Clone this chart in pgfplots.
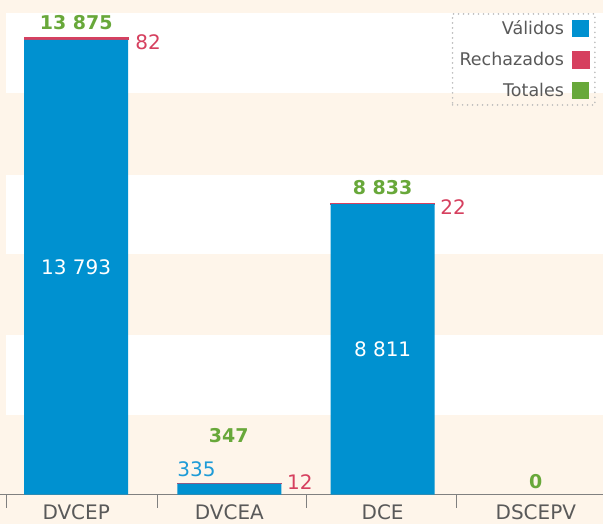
\documentclass[border=0pt]{standalone}
\usepackage{pgfplots}
\pgfplotsset{compat=1.18}
\usepackage{fontspec}
\setmainfont{DejaVu Sans}
\definecolor{cblue}{HTML}{0091D0}
\definecolor{cltblue}{HTML}{1E9BD7}
\definecolor{cred}{HTML}{D6405F}
\definecolor{cgreen}{HTML}{68A83A}
\definecolor{cream}{HTML}{FEF5EA}
\definecolor{labgray}{HTML}{595959}
\definecolor{dotgray}{HTML}{BBBBBB}
\tikzset{vlab/.style={font=\fontsize{20}{24}\selectfont, inner sep=0pt},
         tlab/.style={font=\fontsize{19}{23}\selectfont\bfseries, inner sep=0pt, text=cgreen}}
\begin{document}
\begin{tikzpicture}[x=1pt,y=1pt]
\fill[cream] (0,-29) rectangle (603,495);
\fill[white] (6,80) rectangle (603,160);
\fill[white] (6,241) rectangle (603,320);
\fill[white] (6,402) rectangle (603,482);
\begin{axis}[
  at={(0,0)}, anchor=south west, scale only axis,
  width=603pt, height=495pt,
  xmin=-0.496, xmax=3.437, ymin=0, ymax=15000,
  axis x line=bottom, axis y line=none,
  x axis line style={-, draw=gray},
  xtick={0,1,2,3}, xticklabels={DVCEP,DVCEA,DCE,DSCEPV},
  major tick length=0pt,
  minor xtick={-0.455,0.525,1.5,2.48},
  minor tick length=13pt,
  tick align=outside,
  xticklabel style={font=\fontsize{20}{24}\selectfont, text=labgray, anchor=base, yshift=-24.5pt, inner sep=0pt},
  ytick=\empty,
  clip=false,
  ybar stacked, bar width=104pt,
  legend plot pos=right,
  legend cell align=right,
  legend image code/.code={\fill[#1] (0pt,-8.5pt) rectangle (17pt,8.5pt);},
  legend style={at={(rel axis cs:0.9884,0.9737)}, anchor=north east,
    draw=dotgray, line width=1.8pt, dash pattern=on 0pt off 5pt, line cap=round,
    fill=none, font=\fontsize{17.5}{21}\selectfont, text=labgray,
    row sep=12pt, column sep=6pt, inner sep=5pt,
    nodes={inner sep=2pt}},
]
\addplot[fill=cblue, draw=none] coordinates {(0,13793) (1,335) (2,8811) (3,0)};
\addlegendentry{Válidos}
\addplot[fill=cred, draw=cred, line width=1pt] coordinates {(0,82) (1,12) (2,22) (3,0)};
\addlegendentry{Rechazados}
\addplot[fill=cgreen, draw=none] coordinates {(0,0) (1,0) (2,0) (3,0)};
\addlegendentry{Totales}

\coordinate (t0) at (axis cs:0,14330);
\coordinate (t1) at (axis cs:0.995,1788);
\coordinate (t2) at (axis cs:2,9300);
\coordinate (t3) at (axis cs:3,394);
\coordinate (r0) at (axis cs:0.385,13727);
\coordinate (r1) at (axis cs:1.376,394);
\coordinate (r2) at (axis cs:2.375,8727);
\coordinate (v0) at (axis cs:0,6896);
\coordinate (v1) at (axis cs:0.659,758);
\coordinate (v2) at (axis cs:2,4405);
\end{axis}
\node[tlab] at (t0) {13 875};
\node[tlab] at (t1) {347};
\node[tlab] at (t2) {8 833};
\node[tlab] at (t3) {0};
\node[vlab, text=cred, anchor=west] at (r0) {82};
\node[vlab, text=cred, anchor=west] at (r1) {12};
\node[vlab, text=cred, anchor=west] at (r2) {22};
\node[vlab, text=white] at (v0) {13 793};
\node[vlab, text=cltblue, anchor=west] at (v1) {335};
\node[vlab, text=white] at (v2) {8 811};
\end{tikzpicture}
\end{document}
